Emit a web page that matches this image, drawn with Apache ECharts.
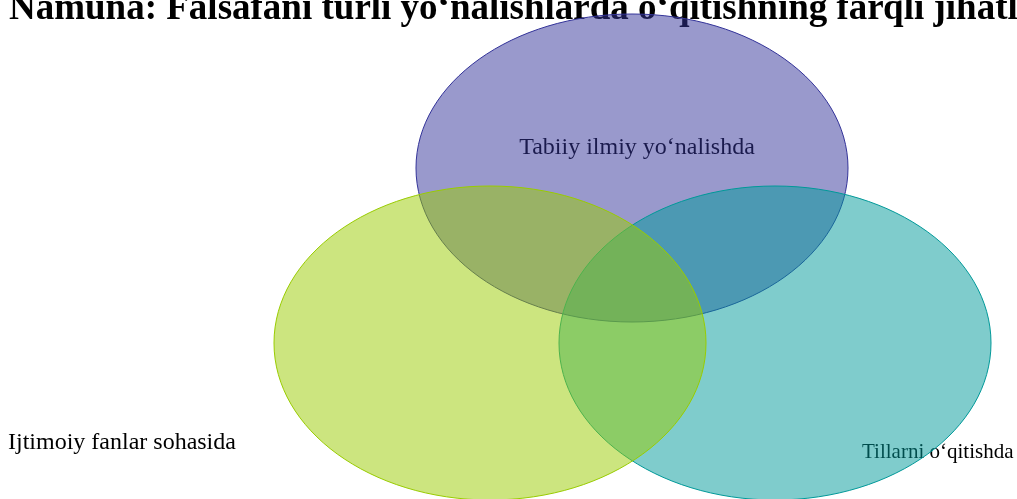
<!DOCTYPE html>
<html>
<head>
<meta charset="utf-8">
<script src="https://cdn.jsdelivr.net/npm/echarts@6/dist/echarts.min.js"></script>
<style>
  html, body { margin: 0; padding: 0; background: #ffffff; }
  #venn { width: 1017px; height: 499px; }
</style>
</head>
<body>
<div id="venn"></div>
<script>
// sets, in drawing order (purple first, then teal, then green on top)
const setNames = ['Tabiiy ilmiy yo‘nalishda', 'Tillarni o‘qitishda', 'Ijtimoiy fanlar sohasida'];
const centerX = [632, 775, 490];
const centerY = [168, 343, 343];
const radiusX = [216, 216, 216];
const radiusY = [154, 157, 157];
const labelX = [637, 862, 8];
const labelY = [148, 452, 443];

const setColors = ['#333399', '#009999', '#99cc00'];
const labelAlign = ['center', 'left', 'left'];
const labelSize = [24, 21, 24];
const titleText = 'Namuna: Falsafani turli yo‘nalishlarda o‘qitishning farqli jihatlari';

const serif = '"Liberation Serif", "Times New Roman", serif';

const ellipseData = setNames.map((name, i) => [centerX[i], centerY[i], radiusX[i], radiusY[i], i]);
const labelData = setNames.map((name, i) => [labelX[i], labelY[i], i]);

const option = {
  backgroundColor: '#ffffff',
  animation: false,
  title: {
    text: titleText,
    left: 9,
    top: -9,
    padding: 0,
    z: 0,
    textStyle: {
      fontFamily: serif,
      fontSize: 37,
      fontWeight: 'bold',
      color: '#000000'
    }
  },
  grid: { left: 0, right: 0, top: 0, bottom: 0 },
  xAxis: { type: 'value', min: 0, max: 1017, show: false },
  yAxis: { type: 'value', min: 0, max: 499, inverse: true, show: false },
  series: [
    {
      // labels sit underneath the translucent ellipses
      type: 'custom',
      z: 1,
      data: labelData,
      renderItem: function (params, api) {
        const i = api.value(2);
        const p = api.coord([api.value(0), api.value(1)]);
        return {
          type: 'text',
          style: {
            text: setNames[i],
            x: p[0],
            y: p[1],
            fill: '#000000',
            font: labelSize[i] + 'px ' + serif,
            align: labelAlign[i],
            verticalAlign: 'middle'
          }
        };
      }
    },
    {
      type: 'custom',
      z: 2,
      data: ellipseData,
      renderItem: function (params, api) {
        const i = api.value(4);
        const c = api.coord([api.value(0), api.value(1)]);
        const s = api.size([api.value(2), api.value(3)]);
        const col = setColors[i];
        return {
          type: 'ellipse',
          shape: { cx: c[0], cy: c[1], rx: s[0], ry: s[1] },
          style: {
            fill: echarts.color.modifyAlpha(col, 0.5),
            stroke: col,
            lineWidth: 1
          }
        };
      }
    }
  ]
};

const chart = echarts.init(document.getElementById('venn'), null, { renderer: 'canvas' });
chart.setOption(option);
</script>
</body>
</html>
